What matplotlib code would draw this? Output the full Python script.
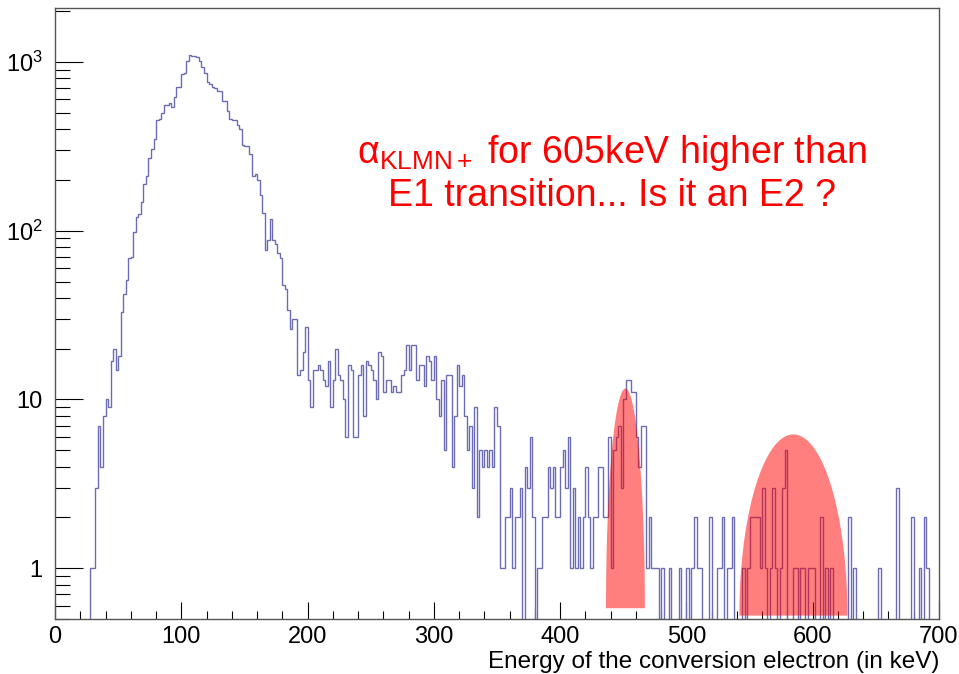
import numpy as np
import matplotlib.pyplot as plt
from matplotlib.ticker import MultipleLocator, LogLocator, FixedLocator, FuncFormatter, NullFormatter

plt.rcParams['font.family'] = ['Liberation Sans', 'DejaVu Sans']
plt.rcParams['mathtext.fontset'] = 'custom'
plt.rcParams['mathtext.rm'] = 'Liberation Sans'
plt.rcParams['mathtext.it'] = 'Liberation Sans:italic'

# 2 keV bins from 0 to 700 keV
bin_edges = np.arange(0, 702, 2)
counts = np.array([
    0, 0, 0, 0, 0, 0, 0, 0, 0, 0,            # 0
    0, 0, 0, 0, 1, 1, 3, 7, 4, 8,            # 20
    10, 9, 17, 20, 15, 18, 33, 42, 51, 69,   # 40
    70, 98, 120, 125, 149, 189, 212, 271, 306, 352,   # 60
    454, 460, 501, 554, 554, 572, 539, 618, 707, 714,  # 80
    846, 855, 1018, 1100, 1090, 1080, 1065, 1010, 938, 860,  # 100
    760, 740, 714, 699, 676, 669, 588, 590, 513, 460,  # 120
    455, 455, 424, 400, 323, 316, 316, 284, 212, 216,  # 140
    200, 163, 127, 77, 88, 117, 88, 84, 74, 69,   # 160
    48, 45, 34, 26, 30, 30, 14, 15, 19, 27,       # 180
    13, 9, 15, 15, 16, 15, 13, 12, 17, 9,         # 200
    13, 20, 14, 13, 10, 6, 16, 15, 6, 6,          # 220
    14, 16, 8, 17, 16, 15, 13, 10, 19, 18,        # 240
    11, 13, 13, 11, 12, 11, 11, 14, 15, 21,       # 260
    15, 21, 21, 13, 16, 16, 12, 18, 17, 13,       # 280
    18, 10, 8, 13, 5, 14, 14, 4, 8, 16,           # 300
    12, 14, 8, 5, 7, 3, 9, 2, 5, 4,               # 320
    5, 4, 5, 4, 9, 7, 1, 1, 2, 2,                 # 340
    3, 1, 2, 2, 3, 0, 4, 3, 6, 2,                 # 360
    0, 1, 1, 2, 2, 4, 3, 4, 2, 2,                 # 380
    4, 5, 3, 6, 1, 3, 1, 2, 1, 2,                 # 400
    4, 2, 1, 2, 2, 4, 4, 2, 2, 6,                 # 420
    1, 5, 6, 7, 3, 10, 13, 13, 11, 11,            # 440
    6, 4, 7, 7, 1, 2, 1, 1, 1, 0,                 # 460
    1, 0, 0, 1, 0, 0, 0, 1, 0, 0,                 # 480
    1, 0, 1, 2, 1, 1, 0, 0, 0, 2,                 # 500
    0, 0, 1, 1, 2, 0, 1, 1, 2, 0,                 # 520
    0, 0, 1, 0, 1, 2, 2, 2, 2, 1,                 # 540
    3, 1, 0, 1, 3, 1, 0, 1, 3, 5,                 # 560
    0, 0, 1, 1, 0, 1, 1, 0, 1, 1,                 # 580
    1, 0, 0, 2, 0, 1, 0, 1, 0, 0,                 # 600
    0, 0, 0, 0, 2, 0, 1, 0, 0, 0,                 # 620
    0, 0, 0, 0, 0, 0, 1, 0, 0, 0,                 # 640
    0, 0, 0, 3, 0, 0, 0, 0, 0, 2,                 # 660
    0, 0, 1, 0, 2, 1, 0, 0, 0, 0,                 # 680
], dtype=float)

# highlighted regions: centre (keV), half width (keV), log10 of bottom and top
highlight_centres = [451.7, 584.7]
highlight_halfwidths = [15.4, 42.8]
highlight_log_bottom = [-0.237, -0.281]
highlight_log_top = [1.065, 0.793]

line1 = r'α$_{\mathregular{KLMN+}}$ for 605keV higher than'
line2 = 'E1 transition... Is it an E2 ?'
xlabel = 'Energy of the conversion electron (in keV)'

fig = plt.figure(figsize=(9.59, 6.74), dpi=100)
ax = fig.add_axes([55 / 959, 55 / 674, 884 / 959, 611 / 674])

ax.stairs(np.where(counts > 0, counts, 1e-3), bin_edges, baseline=None,
          color='#6c6cb4', lw=1.0, zorder=2)

ax.set_yscale('log')
ax.set_xlim(0, 700)
ax.set_ylim(0.5, 2090)

t = np.linspace(0, np.pi, 200)
for xc, hw, lb, lt in zip(highlight_centres, highlight_halfwidths,
                          highlight_log_bottom, highlight_log_top):
    xs = xc + hw * np.cos(t)
    ys = 10 ** (lb + (lt - lb) * np.sin(t))
    ax.fill(xs, ys, color='red', alpha=0.5, lw=0, zorder=3)

ax.text(0.63, 0.746, line1, transform=ax.transAxes, ha='center',
        va='baseline', color='red', fontsize=27)
ax.text(0.63, 0.676, line2, transform=ax.transAxes, ha='center',
        va='baseline', color='red', fontsize=27)

ax.xaxis.set_major_locator(MultipleLocator(100))
ax.xaxis.set_minor_locator(MultipleLocator(20))
ax.yaxis.set_major_locator(FixedLocator([1, 10, 100, 1000]))
ax.yaxis.set_minor_locator(LogLocator(base=10, subs=np.arange(2, 10)))
ax.yaxis.set_minor_formatter(NullFormatter())

ylab = {1: '1', 10: '10', 100: r'$\mathregular{10^{2}}$', 1000: r'$\mathregular{10^{3}}$'}
ax.yaxis.set_major_formatter(FuncFormatter(lambda v, p: ylab.get(int(round(v)), '')))

ax.tick_params(axis='x', which='major', direction='in', length=12, width=0.8,
               labelsize=17, pad=5)
ax.tick_params(axis='x', which='minor', direction='in', length=6, width=0.8)
ax.tick_params(axis='y', which='major', direction='in', length=20, width=0.8,
               labelsize=17, pad=9)
ax.tick_params(axis='y', which='minor', direction='in', length=11, width=0.8)

for s in ax.spines.values():
    s.set_color('#555555')
    s.set_linewidth(1.0)

ax.set_xlabel(xlabel, loc='right', fontsize=17.5, labelpad=2)

fig.savefig('out.png', dpi=100)
